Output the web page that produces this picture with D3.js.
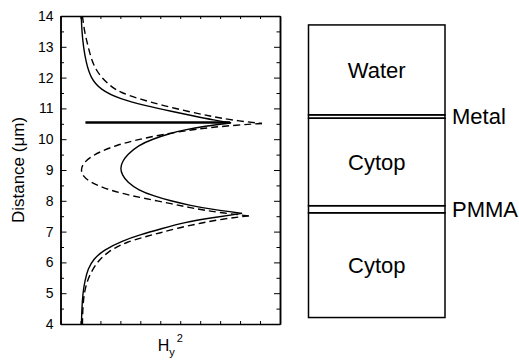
<!DOCTYPE html>
<html>
<head>
<meta charset="utf-8">
<script src="https://d3js.org/d3.v7.min.js"></script>
<style>
  body { margin: 0; background: #fff; }
  text { font-family: Arial, "Liberation Sans", sans-serif; fill: #000; }
</style>
</head>
<body>
<svg width="519" height="360"></svg>
<script>
// [distance (um), Hy^2 (a.u.)], one array per branch
const solidUpper = [
  [14.00, 1.04], [13.50, 1.07], [13.00, 1.15], [12.50, 1.28], [12.00, 1.50],
  [11.60, 2.00], [11.30, 3.00], [11.10, 4.20], [10.90, 5.60], [10.75, 6.70],
  [10.62, 7.70], [10.53, 8.55]
];
const solidMiddle = [
  [10.53, 8.55], [10.42, 7.20], [10.30, 6.20], [10.19, 5.50], [10.00, 4.60],
  [9.80, 3.90], [9.50, 3.35], [9.25, 3.08], [9.05, 3.00], [8.85, 3.08],
  [8.60, 3.35], [8.35, 3.90], [8.15, 4.70], [8.00, 5.50], [7.85, 6.50],
  [7.72, 7.60], [7.59, 9.10]
];
const solidLower = [
  [7.59, 9.10], [7.45, 7.60], [7.30, 6.20], [7.10, 5.10], [6.90, 4.00],
  [6.70, 3.10], [6.40, 2.15], [6.10, 1.65], [5.80, 1.38], [5.40, 1.22],
  [5.00, 1.12], [4.50, 1.07], [4.00, 1.05]
];
const dashedUpper = [
  [14.00, 1.10], [13.50, 1.20], [13.10, 1.35], [12.70, 1.50], [12.34, 1.70],
  [12.00, 2.05], [11.70, 2.55], [11.50, 3.05], [11.30, 4.00], [11.10, 5.10],
  [10.90, 6.40], [10.75, 7.50], [10.62, 8.55], [10.51, 10.10]
];
const dashedMiddle = [
  [10.51, 10.10], [10.46, 8.85], [10.38, 7.50], [10.30, 6.50], [10.14, 5.00],
  [9.97, 3.75], [9.80, 2.80], [9.60, 2.00], [9.40, 1.45], [9.20, 1.12],
  [9.00, 1.02], [8.80, 1.12], [8.60, 1.50], [8.42, 2.15], [8.25, 3.00],
  [8.09, 4.10], [7.90, 5.60], [7.75, 6.70], [7.62, 7.90], [7.51, 9.45]
];
const dashedLower = [
  [7.51, 9.45], [7.42, 8.20], [7.27, 7.00], [7.12, 5.90], [6.96, 5.00],
  [6.82, 4.15], [6.65, 3.30], [6.50, 2.80], [6.34, 2.40], [6.15, 2.05],
  [5.98, 1.82], [5.70, 1.55], [5.43, 1.36], [5.10, 1.22], [4.78, 1.15],
  [4.40, 1.11], [4.00, 1.10]
];
// metal interface marker
const metalLine = [[10.54, 1.25], [10.54, 8.50]];

const distTicks = [4, 5, 6, 7, 8, 9, 10, 11, 12, 13, 14];
const distMinor = [4.5, 5.5, 6.5, 7.5, 8.5, 9.5, 10.5, 11.5, 12.5, 13.5];
const hTicks = [0, 1, 2, 3, 4, 5, 6, 7, 8, 9, 10, 11];

// schematic stack: name, top and bottom (um)
const layerNames = ["Water", "Metal", "Cytop", "PMMA", "Cytop"];
const layerTop = [13.71, 10.79, 10.68, 7.84, 7.61];
const layerBottom = [10.79, 10.68, 7.84, 7.61, 4.21];

const svg = d3.select("svg");
const pl = 60.5, pr = 280, pt = 16, pb = 324;
const y = d3.scaleLinear().domain([4, 14]).range([pb, pt]);
const x = d3.scaleLinear().domain([0, 11]).range([pl, pr]);

// axes (ticks point inward)
const axL = svg.append("g").attr("transform", "translate(" + pl + ",0)")
  .call(d3.axisLeft(y).tickValues(distTicks).tickSizeInner(-6).tickSizeOuter(0).tickPadding(7));
svg.append("g").attr("transform", "translate(" + pl + ",0)")
  .call(d3.axisLeft(y).tickValues(distMinor).tickSizeInner(-3.5).tickSizeOuter(0).tickFormat(""));
svg.append("g").attr("transform", "translate(" + pr + ",0)")
  .call(d3.axisRight(y).tickValues(distTicks).tickSizeInner(-6).tickSizeOuter(0).tickFormat(""));
svg.append("g").attr("transform", "translate(" + pr + ",0)")
  .call(d3.axisRight(y).tickValues(distMinor).tickSizeInner(-3.5).tickSizeOuter(0).tickFormat(""));
svg.append("g").attr("transform", "translate(0," + pb + ")")
  .call(d3.axisBottom(x).tickValues(hTicks).tickSizeInner(-3).tickSizeOuter(0).tickFormat(""));
svg.append("g").attr("transform", "translate(0," + pt + ")")
  .call(d3.axisTop(x).tickValues(hTicks).tickSizeInner(-3).tickSizeOuter(0).tickFormat(""));

svg.selectAll(".domain").attr("stroke", "#000").attr("stroke-width", 1.5);
svg.selectAll(".tick line").attr("stroke", "#000").attr("stroke-width", 1);
axL.selectAll("text").style("font-size", "14px");

svg.append("text")
  .attr("transform", "translate(18," + (pt + pb) / 2 + ") rotate(-90)")
  .attr("text-anchor", "middle").attr("dy", "0.35em")
  .style("font-size", "17px")
  .text("Distance (\u03bcm)");

const xl = svg.append("text")
  .attr("x", (pl + pr) / 2).attr("y", 351)
  .attr("text-anchor", "middle")
  .style("font-size", "16px");
xl.append("tspan").text("H");
xl.append("tspan").attr("dy", 5).style("font-size", "11px").text("y");
xl.append("tspan").attr("dy", -14).attr("dx", 2).style("font-size", "11px").text("2");

// curves: each branch smoothed separately so the peaks stay sharp
const line = d3.line().x(d => x(d[1])).y(d => y(d[0])).curve(d3.curveBasis);
svg.append("g").selectAll("path").data([solidUpper, solidMiddle, solidLower]).join("path")
  .attr("d", line)
  .attr("fill", "none").attr("stroke", "#000").attr("stroke-width", 1.4);
svg.append("g").selectAll("path").data([dashedUpper, dashedMiddle, dashedLower]).join("path")
  .attr("d", line)
  .attr("fill", "none").attr("stroke", "#000").attr("stroke-width", 1.4)
  .attr("stroke-dasharray", "7,4");
svg.append("path").datum(metalLine).attr("d", d3.line().x(d => x(d[1])).y(d => y(d[0])))
  .attr("fill", "none").attr("stroke", "#000").attr("stroke-width", 2.6);

// layer schematic
const bx0 = 308.5, bx1 = 445;
const layers = layerNames.map((n, i) => ({ name: n, top: layerTop[i], bottom: layerBottom[i] }));
svg.append("g").selectAll("rect").data(layers).join("rect")
  .attr("x", bx0).attr("width", bx1 - bx0)
  .attr("y", d => y(d.top)).attr("height", d => y(d.bottom) - y(d.top))
  .attr("fill", "none").attr("stroke", "#000").attr("stroke-width", 1.5);

svg.append("g").selectAll("text").data(layers).join("text")
  .attr("x", d => (d.top - d.bottom) > 1 ? (bx0 + bx1) / 2 : bx1 + 7)
  .attr("y", d => y((d.top + d.bottom) / 2))
  .attr("text-anchor", d => (d.top - d.bottom) > 1 ? "middle" : "start")
  .attr("dy", "0.35em")
  .style("font-size", "22px")
  .text(d => d.name);
</script>
</body>
</html>
